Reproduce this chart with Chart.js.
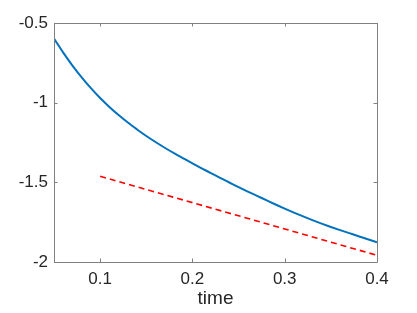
<!DOCTYPE html>
<html>
<head>
<meta charset="utf-8">
<script src="https://cdn.jsdelivr.net/npm/chart.js@4/dist/chart.umd.min.js"></script>
<style>
  body { margin: 0; background: #fff; }
  #wrap { width: 417px; height: 313px; }
</style>
</head>
<body>
<div id="wrap"><canvas id="myChart"></canvas></div>
<script>
// data
const timeVals = [0.05, 0.06, 0.07, 0.08, 0.09, 0.10, 0.11, 0.12, 0.13, 0.14, 0.15, 0.16,
  0.17, 0.18, 0.19, 0.20, 0.21, 0.22, 0.23, 0.24, 0.25, 0.26, 0.27, 0.28, 0.29, 0.30,
  0.31, 0.32, 0.33, 0.34, 0.35, 0.36, 0.37, 0.38, 0.39, 0.40];
const blueVals = [-0.598, -0.686, -0.767, -0.841, -0.909, -0.971, -1.027, -1.078, -1.125, -1.168,
  -1.209, -1.247, -1.283, -1.317, -1.349, -1.381, -1.412, -1.442, -1.472, -1.501, -1.53,
  -1.558, -1.585, -1.612, -1.639, -1.665, -1.69, -1.714, -1.737, -1.759, -1.78, -1.80,
  -1.819, -1.838, -1.857, -1.876];
const refTime = [0.1, 0.4];
const refVals = [-1.462, -1.958];

const xTicks = [0.1, 0.2, 0.3, 0.4];
const yTicks = [-2, -1.5, -1, -0.5];
const xLabel = 'time';

const axisColor = '#808080';
const textColor = '#262626';

function toPoints(xs, ys) {
  return xs.map((x, i) => ({ x: x, y: ys[i] }));
}

// box + inward ticks, matlab style
const boxPlugin = {
  id: 'box',
  afterDatasetsDraw(chart) {
    const ctx = chart.ctx;
    const a = chart.chartArea;
    const xs = chart.scales.x, ys = chart.scales.y;
    const len = 3.5;
    ctx.save();
    ctx.strokeStyle = axisColor;
    ctx.lineWidth = 1;
    ctx.beginPath();
    ctx.rect(Math.round(a.left) + 0.5, Math.round(a.top) + 0.5,
      Math.round(a.right - a.left), Math.round(a.bottom - a.top));
    for (const t of xTicks) {
      const px = Math.round(xs.getPixelForValue(t)) + 0.5;
      ctx.moveTo(px, a.bottom); ctx.lineTo(px, a.bottom - len);
      ctx.moveTo(px, a.top); ctx.lineTo(px, a.top + len);
    }
    for (const t of yTicks) {
      const py = Math.round(ys.getPixelForValue(t)) + 0.5;
      ctx.moveTo(a.left, py); ctx.lineTo(a.left + len, py);
      ctx.moveTo(a.right, py); ctx.lineTo(a.right - len, py);
    }
    ctx.stroke();
    ctx.restore();
  }
};

new Chart('myChart', {
  type: 'line',
  data: {
    datasets: [{
      data: toPoints(timeVals, blueVals),
      borderColor: '#0072BD',
      borderWidth: 2,
      pointRadius: 0,
      cubicInterpolationMode: 'monotone',
      fill: false
    }, {
      data: toPoints(refTime, refVals),
      borderColor: '#FF0000',
      borderWidth: 1.6,
      borderDash: [6, 4],
      pointRadius: 0,
      fill: false
    }]
  },
  options: {
    responsive: true,
    maintainAspectRatio: false,
    animation: false,
    layout: { padding: { left: 0, top: 23, right: 40, bottom: 0 } },
    plugins: {
      legend: { display: false },
      tooltip: { enabled: false }
    },
    scales: {
      x: {
        type: 'linear',
        min: 0.05,
        max: 0.4,
        afterBuildTicks: s => { s.ticks = xTicks.map(v => ({ value: v })); },
        afterFit: s => { s.height = 51; },
        grid: { display: false, drawTicks: false },
        border: { display: false },
        ticks: {
          color: textColor,
          font: { family: 'Liberation Sans', size: 17 },
          padding: 7,
          maxRotation: 0,
          callback: v => String(v)
        },
        title: {
          display: true,
          text: xLabel,
          color: textColor,
          font: { family: 'Liberation Sans', size: 19 },
          padding: { top: 0, bottom: 3 }
        }
      },
      y: {
        min: -2,
        max: -0.5,
        afterBuildTicks: s => { s.ticks = yTicks.map(v => ({ value: v })); },
        afterFit: s => { s.width = 54; },
        grid: { display: false, drawTicks: false },
        border: { display: false },
        ticks: {
          color: textColor,
          font: { family: 'Liberation Sans', size: 17 },
          padding: 6,
          callback: v => String(v)
        }
      }
    }
  },
  plugins: [boxPlugin]
});
</script>
</body>
</html>
